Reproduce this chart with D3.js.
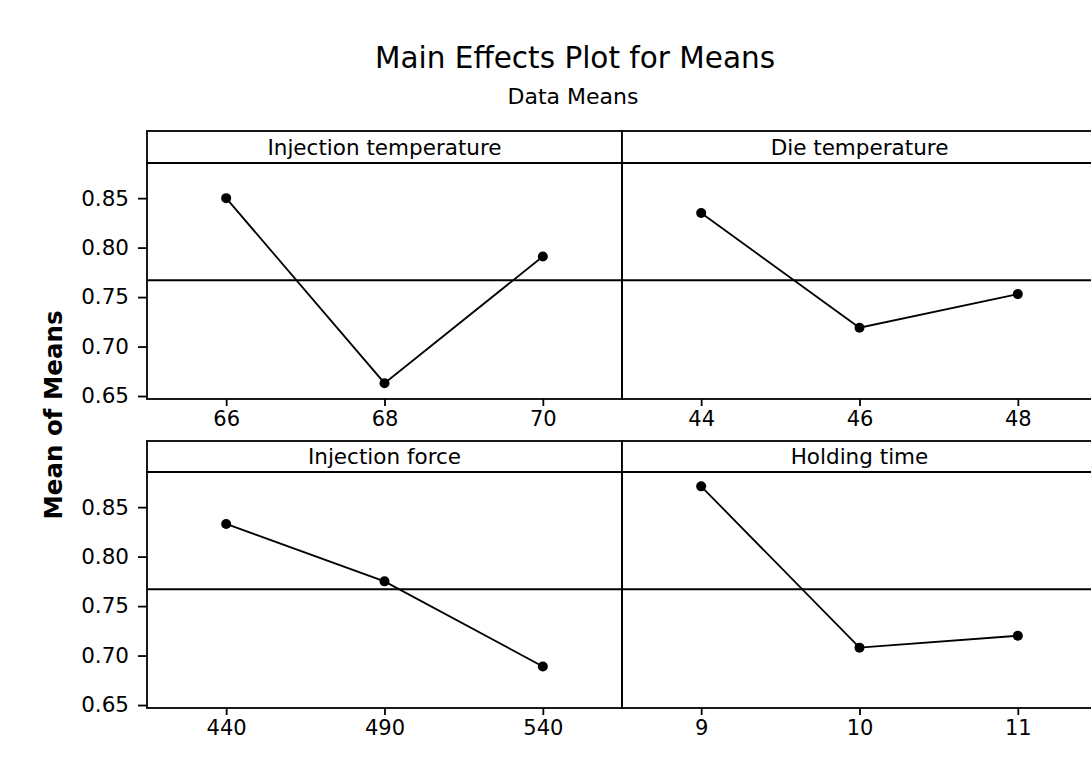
<!DOCTYPE html>
<html>
<head>
<meta charset="utf-8">
<script src="https://cdn.jsdelivr.net/npm/d3@7"></script>
<style>
  html, body { margin: 0; padding: 0; background: #fff; }
  svg { display: block; }
  text { font-family: "DejaVu Sans", Verdana, sans-serif; fill: #000; }
</style>
</head>
<body>
<svg id="chart" width="1091" height="772"></svg>
<script>
// ---- data ----
const factors = ["Injection temperature", "Die temperature", "Injection force", "Holding time"];
const levels = [
  ["66", "68", "70"],
  ["44", "46", "48"],
  ["440", "490", "540"],
  ["9", "10", "11"]
];
const means = [
  [0.850, 0.663, 0.791],
  [0.835, 0.719, 0.753],
  [0.833, 0.775, 0.689],
  [0.871, 0.708, 0.720]
];
const grandMean = 0.767;
const yTicks = [0.65, 0.70, 0.75, 0.80, 0.85];
const yDomain = [0.647, 0.8855];
const chartTitle = "Main Effects Plot for Means";
const chartSubtitle = "Data Means";
const yLabel = "Mean of Means";

// ---- layout ----
const svg = d3.select("#chart");
const left = 147, panelW = 475;
const rows = [
  { stripTop: 131, plotTop: 163, plotBottom: 399 },
  { stripTop: 441, plotTop: 472, plotBottom: 708 }
];
const sw = 1.8;

svg.append("text")
  .attr("x", 575).attr("y", 68)
  .attr("text-anchor", "middle")
  .style("font-size", "29.5px")
  .text(chartTitle);

svg.append("text")
  .attr("x", 573).attr("y", 104)
  .attr("text-anchor", "middle")
  .style("font-size", "22px")
  .text(chartSubtitle);

svg.append("text")
  .attr("transform", "translate(62,415) rotate(-90)")
  .attr("text-anchor", "middle")
  .style("font-size", "24.5px")
  .style("font-weight", "bold")
  .text(yLabel);

factors.forEach((name, i) => {
  const r = rows[Math.floor(i / 2)];
  const c = i % 2;
  const x0 = left + c * panelW;
  const g = svg.append("g");

  const x = d3.scalePoint().domain(levels[i]).range([x0, x0 + panelW]).padding(0.5);
  const y = d3.scaleLinear().domain(yDomain).range([r.plotBottom, r.plotTop]);

  // strip
  g.append("rect")
    .attr("x", x0).attr("y", r.stripTop)
    .attr("width", panelW).attr("height", r.plotTop - r.stripTop)
    .attr("fill", "#fff").attr("stroke", "#000").attr("stroke-width", sw);
  g.append("text")
    .attr("x", x0 + panelW / 2).attr("y", r.plotTop - 8)
    .attr("text-anchor", "middle")
    .style("font-size", "21.5px")
    .text(name);

  // plot frame
  g.append("rect")
    .attr("x", x0).attr("y", r.plotTop)
    .attr("width", panelW).attr("height", r.plotBottom - r.plotTop)
    .attr("fill", "none").attr("stroke", "#000").attr("stroke-width", sw);

  // grand mean reference line
  g.append("line")
    .attr("x1", x0).attr("x2", x0 + panelW)
    .attr("y1", y(grandMean)).attr("y2", y(grandMean))
    .attr("stroke", "#000").attr("stroke-width", sw);

  // x axis
  const xa = g.append("g")
    .attr("transform", `translate(0,${r.plotBottom})`)
    .call(d3.axisBottom(x).tickSize(7).tickPadding(5));
  xa.select(".domain").remove();
  xa.selectAll("line").attr("stroke", "#000").attr("stroke-width", sw);
  xa.selectAll("text").style("font-size", "21px").attr("fill", "#000").attr("font-family", null);

  // y axis on left column
  if (c === 0) {
    const ya = g.append("g")
      .attr("transform", `translate(${x0},0)`)
      .call(d3.axisLeft(y).tickValues(yTicks).tickFormat(d3.format(".2f")).tickSize(9).tickPadding(9));
    ya.select(".domain").remove();
    ya.selectAll("line").attr("stroke", "#000").attr("stroke-width", sw);
    ya.selectAll("text").style("font-size", "21.5px").attr("fill", "#000").attr("font-family", null);
  }

  // line + points
  const pts = levels[i].map((lv, k) => ({ lv, v: means[i][k] }));
  g.append("path")
    .datum(pts)
    .attr("fill", "none").attr("stroke", "#000").attr("stroke-width", sw)
    .attr("d", d3.line().x(d => x(d.lv)).y(d => y(d.v)));
  g.selectAll("circle.pt")
    .data(pts).enter().append("circle")
    .attr("class", "pt")
    .attr("cx", d => x(d.lv)).attr("cy", d => y(d.v))
    .attr("r", 5).attr("fill", "#000");
});
</script>
</body>
</html>
